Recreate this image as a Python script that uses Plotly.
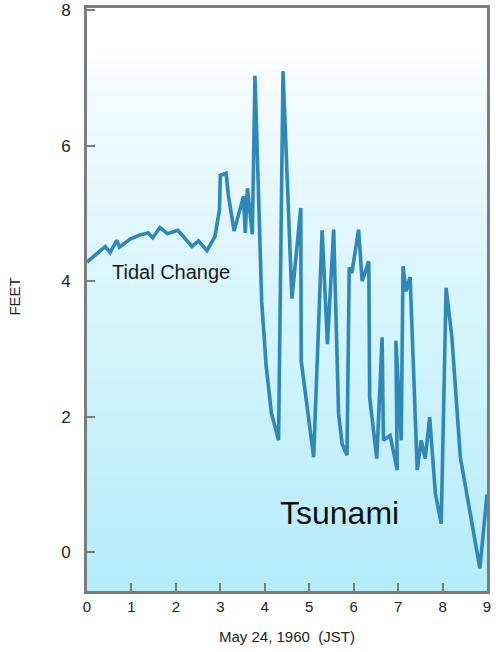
import numpy as np
import plotly.graph_objects as go

# Data (hours after 0:00 JST, May 24 1960; water level in feet)
time_hours = [0.00, 0.41, 0.52, 0.67, 0.73, 0.97, 1.19, 1.38, 1.48, 1.64, 1.81, 2.04, 2.14,
              2.36, 2.51, 2.70, 2.88, 2.98, 3.00, 3.13, 3.18, 3.31, 3.52, 3.56, 3.61, 3.72,
              3.78, 3.93, 4.03, 4.15, 4.31, 4.41, 4.61, 4.81, 4.82, 5.10, 5.29, 5.41, 5.55,
              5.66, 5.74, 5.85, 5.90, 5.96, 6.11, 6.19, 6.34, 6.36, 6.52, 6.64, 6.67, 6.82,
              6.98, 6.95, 7.07, 7.11, 7.18, 7.27, 7.43, 7.52, 7.61, 7.71, 7.84, 7.97, 8.08,
              8.21, 8.40, 8.59, 8.84, 9.00]
level_feet = [4.28, 4.51, 4.42, 4.60, 4.50, 4.62, 4.68, 4.71, 4.64, 4.79, 4.70, 4.75, 4.68,
              4.51, 4.59, 4.45, 4.66, 5.05, 5.56, 5.59, 5.27, 4.74, 5.25, 4.71, 5.37, 4.69,
              7.03, 3.70, 2.75, 2.05, 1.65, 7.10, 3.74, 5.08, 2.82, 1.40, 4.75, 3.07, 4.76,
              2.04, 1.60, 1.43, 4.20, 4.12, 4.76, 4.00, 4.29, 2.28, 1.38, 3.17, 1.65, 1.72,
              1.21, 3.12, 1.65, 4.22, 3.85, 4.06, 1.21, 1.65, 1.38, 1.99, 0.86, 0.42, 3.90,
              3.17, 1.40, 0.67, -0.24, 0.85]

x_ticks = [0, 1, 2, 3, 4, 5, 6, 7, 8, 9]
y_ticks = [0, 2, 4, 6, 8]
x_title = "May 24, 1960  (JST)"
y_title = "FEET"
label_tidal = "Tidal Change"
label_tsunami = "Tsunami"

Y_MIN, Y_MAX = -0.574, 8.03
X_MIN, X_MAX = 0, 9

FONT = "Liberation Sans, Arial, Helvetica, sans-serif"
FRAME = "#7c7c7c"

fig = go.Figure()

# background vertical gradient (white at top -> light cyan at bottom)
gy = np.linspace(-1, 9, 60)
fig.add_trace(go.Heatmap(
    x=[-1, 10], y=gy, z=[[v, v] for v in gy],
    zmin=-0.574, zmax=8.03,
    colorscale=[[0.0, "#b4ecfa"], [0.45, "#d4f4fc"], [0.85, "#f1fbfe"], [0.93, "#ffffff"], [1.0, "#ffffff"]],
    zsmooth="best", showscale=False, hoverinfo="skip",
))

fig.add_trace(go.Scatter(
    x=time_hours, y=level_feet, mode="lines",
    line=dict(color="#2e89ba", width=3.6),
    hoverinfo="skip",
))

fig.add_annotation(x=1.89, y=4.13, text=label_tidal, showarrow=False,
                   font=dict(family=FONT, size=20, color="#1a1a1a"))
fig.add_annotation(x=5.69, y=0.58, text=label_tsunami, showarrow=False,
                   font=dict(family=FONT, size=32, color="#111111"))

fig.add_annotation(xref="paper", yref="paper", x=-0.18, y=0.505, xanchor="center",
                   yanchor="middle", text=y_title, textangle=-90, showarrow=False,
                   font=dict(family=FONT, size=15, color="#222222"))
fig.add_annotation(xref="paper", yref="paper", x=0.5, y=-0.078, xanchor="center",
                   yanchor="middle", text=x_title, showarrow=False,
                   font=dict(family=FONT, size=15, color="#222222"))

fig.update_layout(
    width=496, height=652,
    margin=dict(l=87, r=9, t=8, b=61, autoexpand=False),
    paper_bgcolor="white", plot_bgcolor="white",
    showlegend=False,
    font=dict(family=FONT, color="#222222"),
)
fig.update_xaxes(
    range=[X_MIN, X_MAX], tickvals=x_ticks, ticktext=[str(t) for t in x_ticks],
    showgrid=False, zeroline=False, showline=True, mirror=True, automargin=False,
    linecolor=FRAME, linewidth=3, ticks="inside", ticklen=8, tickwidth=1.5,
    tickcolor=FRAME, tickfont=dict(family=FONT, size=15, color="#222222"),
    ticklabelstandoff=0,
)
fig.update_yaxes(
    range=[Y_MIN, Y_MAX], tickvals=y_ticks, ticktext=[str(t) for t in y_ticks],
    showgrid=False, zeroline=False, showline=True, mirror=True, automargin=False,
    linecolor=FRAME, linewidth=3, ticks="inside", ticklen=8, tickwidth=1.5,
    tickcolor=FRAME, tickfont=dict(family=FONT, size=17, color="#222222"),
    ticklabelstandoff=10,
)

fig.write_html("out.html", config={"displayModeBar": False},
               post_script="document.body.style.margin='0';")
